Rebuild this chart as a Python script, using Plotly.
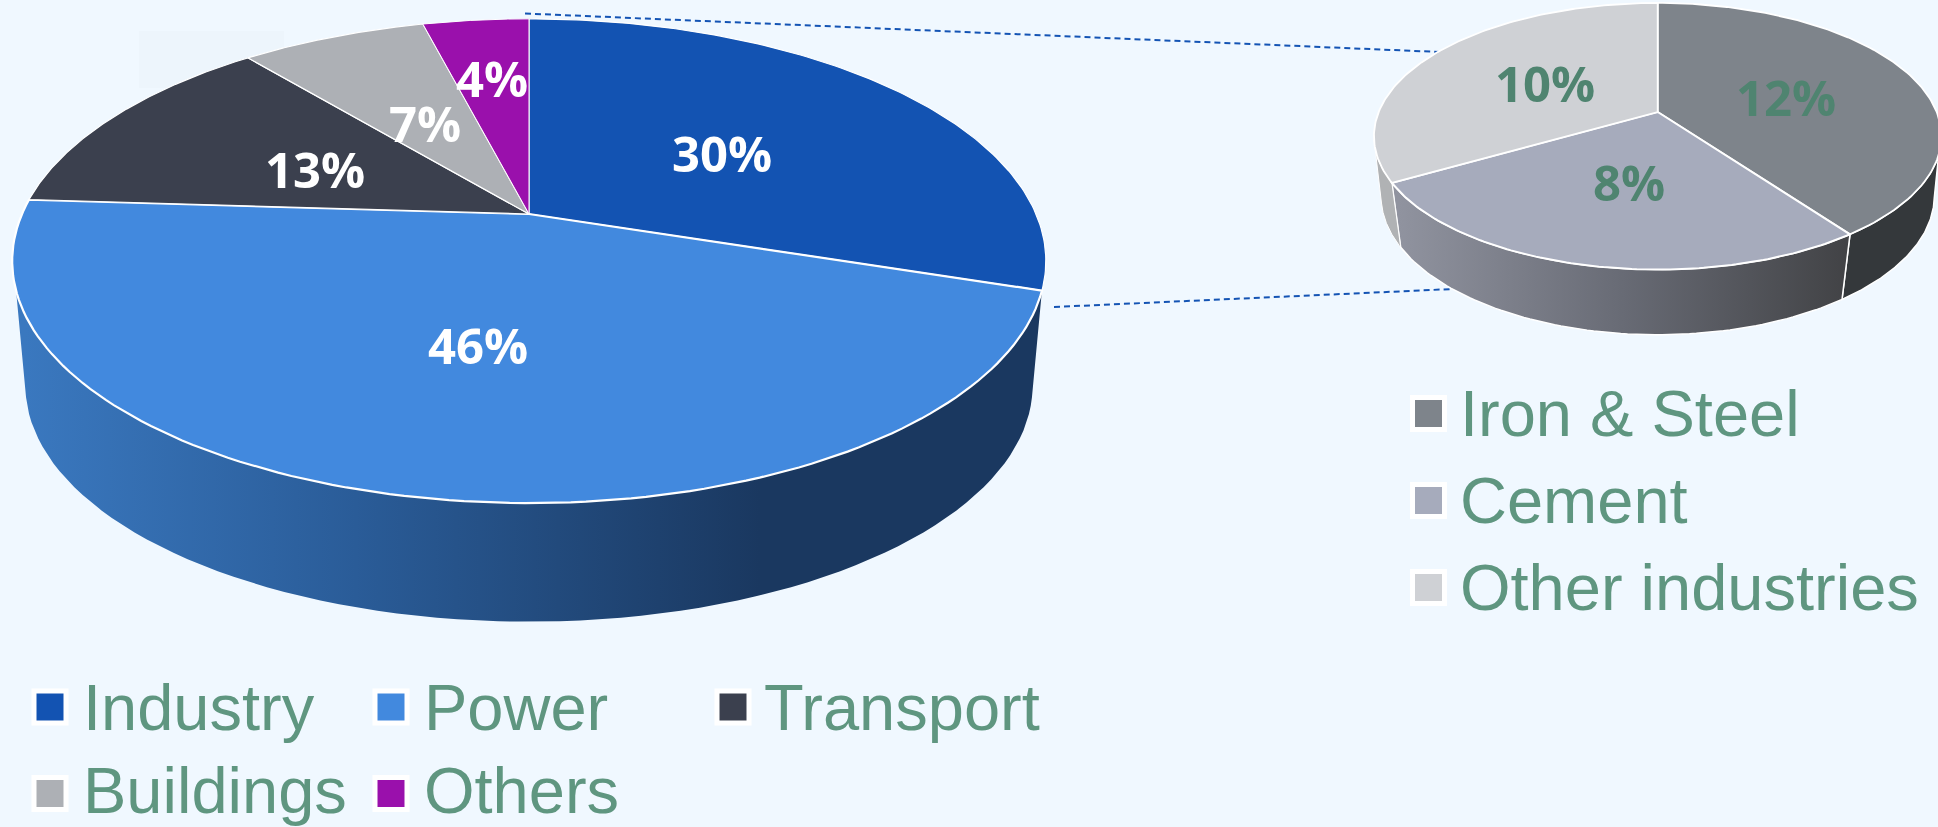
import numpy as np
import plotly.graph_objects as go

# ---- data ----
main_names = ["Industry", "Power", "Transport", "Buildings", "Others"]
main_values = [30, 46, 13, 7, 4]
main_colors = ["#1353b2", "#4289de", "#3b404e", "#adb0b5", "#9a10ac"]

sub_names = ["Iron & Steel", "Cement", "Other industries"]
sub_values = [12, 8, 10]
sub_colors = ["#7e848b", "#a6abbc", "#cfd1d5"]

BG = "#f0f8ff"
TEXT = "#5f9680"
LABEL_GREEN = "#4f8470"
DASH = "#1454b4"


def project(theta_deg, g, face="top"):
    """Perspective projection of a circle point; theta clockwise from 12 o'clock."""
    t = np.radians(np.asarray(theta_deg, dtype=float))
    p = g[face]
    w = 1 + p["k"] * np.cos(t)
    return p["cx"] + p["b"] * np.sin(t) / w, p["cy"] - p["a"] * np.cos(t) / w


MAIN = dict(
    top=dict(cx=529, cy=214, a=233, b=507, k=0.194),
    bot=dict(cx=529, cy=340, a=227, b=494, k=0.194),
)
SUB = dict(
    top=dict(cx=1657.7, cy=112, a=128.9, b=279, k=0.182),
    bot=dict(cx=1657.7, cy=174, a=135, b=273, k=0.16),
)

fig = go.Figure()


def side(g, t0, t1, b0, b1, line_w=0, **fill):
    th = np.linspace(t0, t1, 80)
    tb = np.linspace(b1, b0, 80)
    x1, y1 = project(th, g, "top")
    x2, y2 = project(tb, g, "bot")
    x = np.r_[x1, x2, x1[0]]
    y = np.r_[y1, y2, y1[0]]
    fig.add_trace(go.Scatter(x=x, y=y, mode="lines", fill="toself",
                             line=dict(color="white", width=line_w),
                             hoverinfo="skip", showlegend=False, **fill))


def wedges(values, colors, g, widths):
    edges = np.cumsum([0] + list(values)) / sum(values) * 360
    for i, c in enumerate(colors):
        th = np.linspace(edges[i], edges[i + 1], 120)
        x, y = project(th, g, "top")
        cx, cy = g["top"]["cx"], g["top"]["cy"]
        fig.add_trace(go.Scatter(x=np.r_[cx, x, cx], y=np.r_[cy, y, cy], mode="lines",
                                 fill="toself", fillcolor=c,
                                 line=dict(color="white", width=widths[i]),
                                 hoverinfo="skip", showlegend=False, name=""))
    return edges


# dashed connectors
fig.add_trace(go.Scatter(x=[525, 1440], y=[13.5, 52], mode="lines",
                         line=dict(color=DASH, width=2, dash="6px,4px"),
                         hoverinfo="skip", showlegend=False))
fig.add_trace(go.Scatter(x=[1054, 1453], y=[307, 289], mode="lines",
                         line=dict(color=DASH, width=2, dash="6px,4px"),
                         hoverinfo="skip", showlegend=False))

# main pie
side(MAIN, 108, 252, 104, 256,
     fillgradient=dict(type="horizontal", start=25, stop=760,
                       colorscale=[[0, "#3a78bf"], [0.45, "#2a5c98"], [1, "#1a3860"]]))
wedges(main_values, main_colors, MAIN, [1.2, 2.2, 1.2, 1.2, 1.0])

# sub pie
sub_edges = np.cumsum([0] + sub_values) / sum(sub_values) * 360
side(SUB, 98, sub_edges[1], 100, sub_edges[1], line_w=1.5, fillcolor="#34383b")
side(SUB, sub_edges[1], sub_edges[2], sub_edges[1], sub_edges[2], line_w=1.5,
     fillgradient=dict(type="horizontal", start=1399, stop=1845,
                       colorscale=[[0, "#90939f"], [0.5, "#686b75"], [1, "#424346"]]))
side(SUB, sub_edges[2], 258, sub_edges[2], 258, line_w=1.0, fillcolor="#b0b2b4")
wedges(sub_values, sub_colors, SUB, [1.8, 2.0, 1.8])

# swatches
sw_x = [50, 391, 733, 50, 391]
sw_y = [707, 707, 707, 793.5, 793.5]
fig.add_trace(go.Scatter(x=sw_x, y=sw_y, mode="markers",
                         marker=dict(symbol="square", size=32, color=main_colors,
                                     line=dict(color="white", width=5)),
                         hoverinfo="skip", showlegend=False))
sw2_x = [1428.5] * 3
sw2_y = [413.5, 500.5, 587.5]
fig.add_trace(go.Scatter(x=sw2_x, y=sw2_y, mode="markers",
                         marker=dict(symbol="square", size=32, color=sub_colors,
                                     line=dict(color="white", width=5)),
                         hoverinfo="skip", showlegend=False))

ann = []


def label(x, y, text, color, size=49, xanchor="center", yanchor="middle", family="Open Sans", weight=700):
    ann.append(dict(x=x, y=y, xref="x", yref="y", text=text, showarrow=False,
                    xanchor=xanchor, yanchor=yanchor,
                    font=dict(family=family, size=size, color=color, weight=weight)))


for pos, v in zip([(722, 153), (478, 345), (315, 169), (425, 123), (492, 78)], main_values):
    label(pos[0], pos[1], f"{v}%", "white")
for pos, v in zip([(1786, 97), (1629, 182), (1545, 83)], sub_values):
    label(pos[0], pos[1], f"{v}%", LABEL_GREEN)

for x, y, n in zip([81, 422, 762, 81, 422], [707, 707, 707, 790, 790], main_names):
    label(x, y, n, TEXT, size=65, xanchor="left", family="Liberation Sans", weight=400)
for y, n in zip(sw2_y, sub_names):
    label(1458, y, n, TEXT, size=65, xanchor="left", family="Liberation Sans", weight=400)

fig.update_layout(
    width=1938, height=827, autosize=False,
    margin=dict(l=0, r=0, t=0, b=0, pad=0),
    paper_bgcolor=BG, plot_bgcolor=BG, showlegend=False,
    xaxis=dict(range=[0, 1938], visible=False, fixedrange=True),
    yaxis=dict(range=[827, 0], visible=False, fixedrange=True),
    annotations=ann,
    shapes=[dict(type="rect", xref="x", yref="y", x0=139, x1=284, y0=31, y1=88,
                 fillcolor="#edf5fc", line=dict(width=0), layer="below")],
)
fig.write_html("out.html", config=dict(displayModeBar=False),
               post_script="document.body.style.margin='0';document.body.style.overflow='hidden';"
                           "document.body.style.background='#f0f8ff';")
